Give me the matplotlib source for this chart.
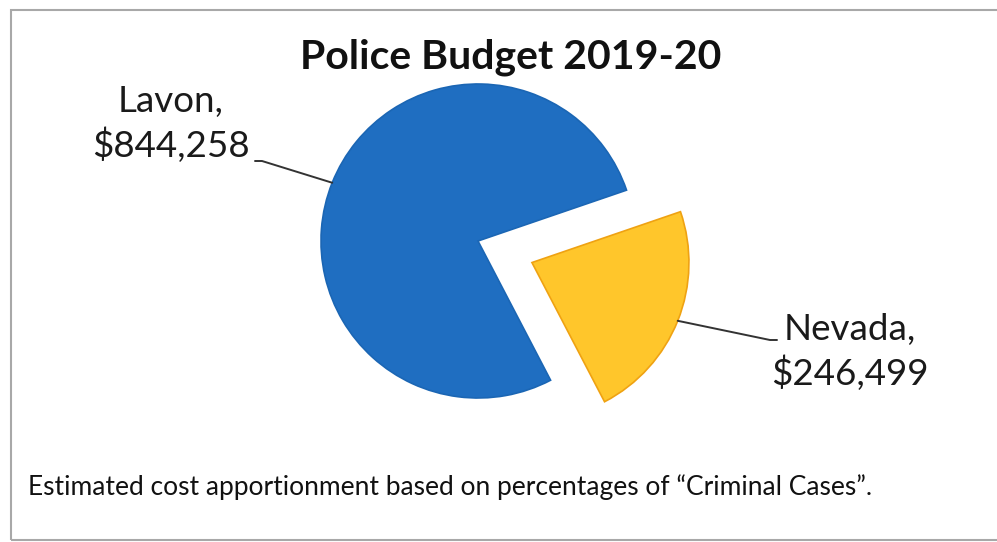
import matplotlib
matplotlib.use("Agg")
import matplotlib.pyplot as plt
from matplotlib.patches import Rectangle
import numpy as np

# ---- data ----
labels = ["Lavon", "Nevada"]
values = [844258, 246499]
title = "Police Budget 2019-20"
caption = "Estimated cost apportionment based on percentages of \u201cCriminal Cases\u201d."
colors = ["#1F6EC1", "#FFC62B"]
edge_colors = ["#1B66B4", "#EFA212"]

W, H = 997, 542
fig = plt.figure(figsize=(W / 100, H / 100), dpi=100)
ax = fig.add_axes([0, 0, 1, 1])

cx, cy, R = 478, 301, 157
explode_frac = [0, 0.37]
wedges, _ = ax.pie(values, colors=colors, startangle=18.9, counterclock=True,
                   explode=[e * R for e in explode_frac], center=(cx, cy),
                   radius=R, frame=True, wedgeprops=dict(linewidth=1.2))
for w, ec in zip(wedges, edge_colors):
    w.set_edgecolor(ec)

ax.set_xlim(0, W)
ax.set_ylim(0, H)
ax.set_aspect("equal")
ax.axis("off")

lab_font = ["Lato", "DejaVu Sans"]
cap_font = ["Lato", "DejaVu Sans"]

# label anchors (text centre, leader-line end at text side)
label_pos = [(171, 418), (850, 190)]
line_end = [[(255, 381), (262, 381)], [(777, 202), (770, 202)]]

for w, name, val, (tx, ty), ends in zip(wedges, labels, values, label_pos, line_end):
    th = np.deg2rad((w.theta1 + w.theta2) / 2)
    px = w.center[0] + w.r * np.cos(th)
    py = w.center[1] + w.r * np.sin(th)
    ax.text(tx, ty, f"{name},\n${val:,}", ha="center", va="center",
            fontsize=26.5, family=lab_font, color="#1a1a1a", linespacing=1.3)
    xs = [ends[0][0], ends[1][0], px]
    ys = [ends[0][1], ends[1][1], py]
    ax.plot(xs, ys, color="#333333", lw=1.4, solid_capstyle="round")

ax.text(511, 485, title, ha="center", va="center", fontsize=29.5,
        fontweight="bold", family=lab_font, color="#111111")
ax.text(28, 55, caption, ha="left", va="center", fontsize=19,
        family=cap_font, color="#111111")

frame = Rectangle((11, 2), 1000, 530, fill=False, edgecolor="#a8a8a8",
                  lw=1.5, clip_on=False)
ax.add_patch(frame)

fig.savefig("out.png", dpi=100, facecolor="white")
